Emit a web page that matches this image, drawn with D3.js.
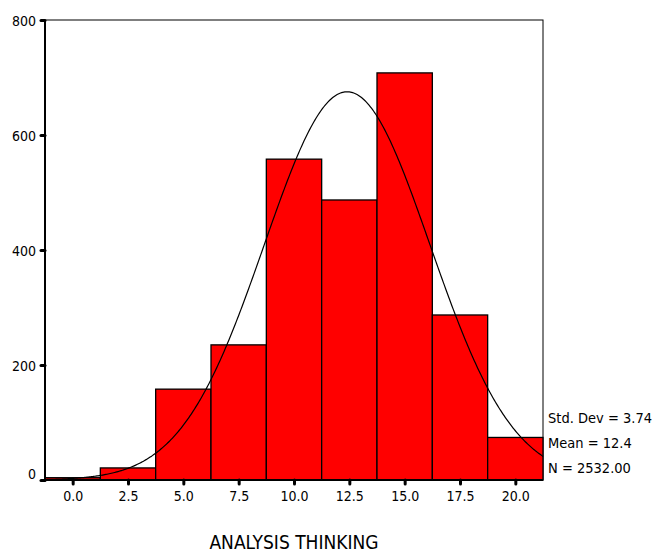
<!DOCTYPE html>
<html>
<head>
<meta charset="utf-8">
<script src="https://cdn.jsdelivr.net/npm/d3@7"></script>
<style>
  body { margin: 0; background: #fff; }
  text { font-family: "DejaVu Sans Condensed", "DejaVu Sans", sans-serif; fill: #000; }
</style>
</head>
<body>
<div id="chart"></div>
<script>
// histogram bins (centre of each bin) and counts
var binCenters = [0, 2.5, 5, 7.5, 10, 12.5, 15, 17.5, 20];
var binCounts = [4, 21, 158, 235, 558, 487, 708, 287, 74];
var binWidth = 2.5;

var yTicks = [0, 200, 400, 600, 800];
var xTickLabels = ["0.0", "2.5", "5.0", "7.5", "10.0", "12.5", "15.0", "17.5", "20.0"];

// summary stats printed beside the chart (used for the normal curve too)
var statLabels = ["Std. Dev = 3.74", "Mean = 12.4", "N = 2532.00"];
var statMean = 12.4, statSd = 3.74, statN = 2532;

var width = 656, height = 554;
var plotLeft = 45, plotRight = 543, plotTop = 20, plotBottom = 480;

var svg = d3.select("#chart").append("svg")
    .attr("width", width)
    .attr("height", height);

var x = d3.scaleLinear().domain([-1.25, 21.25]).range([plotLeft, plotRight]);
var y = d3.scaleLinear().domain([0, 800]).range([plotBottom, plotTop]);

// frame (top + right thin)
svg.append("rect")
    .attr("x", plotLeft).attr("y", plotTop)
    .attr("width", plotRight - plotLeft).attr("height", plotBottom - plotTop)
    .attr("fill", "none").attr("stroke", "#000").attr("stroke-width", 1);

// bars
svg.append("g").selectAll("rect")
    .data(binCenters)
    .enter().append("rect")
    .attr("x", function (d) { return x(d - binWidth / 2); })
    .attr("y", function (d, i) { return y(binCounts[i]); })
    .attr("width", function (d) { return x(d + binWidth / 2) - x(d - binWidth / 2); })
    .attr("height", function (d, i) { return y(0) - y(binCounts[i]); })
    .attr("fill", "#ff0000")
    .attr("stroke", "#000")
    .attr("stroke-width", 1.3);

// normal curve fitted from mean / sd / N
var curvePts = d3.range(-1.25, 21.26, 0.05).map(function (v) {
    var z = (v - statMean) / statSd;
    var dens = statN * binWidth / (statSd * Math.sqrt(2 * Math.PI)) * Math.exp(-0.5 * z * z);
    return [v, dens];
});
svg.append("path")
    .datum(curvePts)
    .attr("fill", "none")
    .attr("stroke", "#000")
    .attr("stroke-width", 1.2)
    .attr("d", d3.line()
        .x(function (d) { return x(d[0]); })
        .y(function (d) { return y(d[1]); }));

// axes lines (thicker left / bottom)
svg.append("line")
    .attr("x1", plotLeft).attr("x2", plotLeft).attr("y1", plotTop).attr("y2", plotBottom + 1)
    .attr("stroke", "#000").attr("stroke-width", 2);
svg.append("line")
    .attr("x1", plotLeft - 1).attr("x2", plotRight).attr("y1", plotBottom).attr("y2", plotBottom)
    .attr("stroke", "#000").attr("stroke-width", 2);

// y axis
var yAxis = d3.axisLeft(y).tickValues(yTicks).tickSize(4).tickPadding(5)
    .tickFormat(d3.format("d"));
var gy = svg.append("g")
    .attr("transform", "translate(" + plotLeft + ",0)")
    .call(yAxis);
gy.select(".domain").remove();
gy.selectAll(".tick line").attr("stroke-width", 3).attr("stroke-linecap", "round");
gy.selectAll(".tick text")
    .attr("font-size", 14)
    .style("font-family", "DejaVu Sans Condensed")
    .attr("y", function (d) { return d === 0 ? -6 : 1; });

// x axis
var xAxis = d3.axisBottom(x).tickValues(binCenters).tickSize(4).tickPadding(7)
    .tickFormat(function (d, i) { return xTickLabels[i]; });
var gx = svg.append("g")
    .attr("transform", "translate(0," + plotBottom + ")")
    .call(xAxis);
gx.select(".domain").remove();
gx.selectAll(".tick line").attr("stroke-width", 3).attr("stroke-linecap", "round");
gx.selectAll(".tick text").attr("font-size", 14).style("font-family", "DejaVu Sans Condensed");

// stats text
svg.append("g").selectAll("text")
    .data(statLabels)
    .enter().append("text")
    .attr("x", 548)
    .attr("y", function (d, i) { return 418 + i * 25; })
    .attr("dy", "0.35em")
    .attr("font-size", 14.5)
    .text(function (d) { return d; });

// x title
svg.append("text")
    .attr("x", 294)
    .attr("y", 542)
    .attr("dy", "0.35em")
    .attr("text-anchor", "middle")
    .attr("font-size", 19)
    .text("ANALYSIS THINKING");
</script>
</body>
</html>
